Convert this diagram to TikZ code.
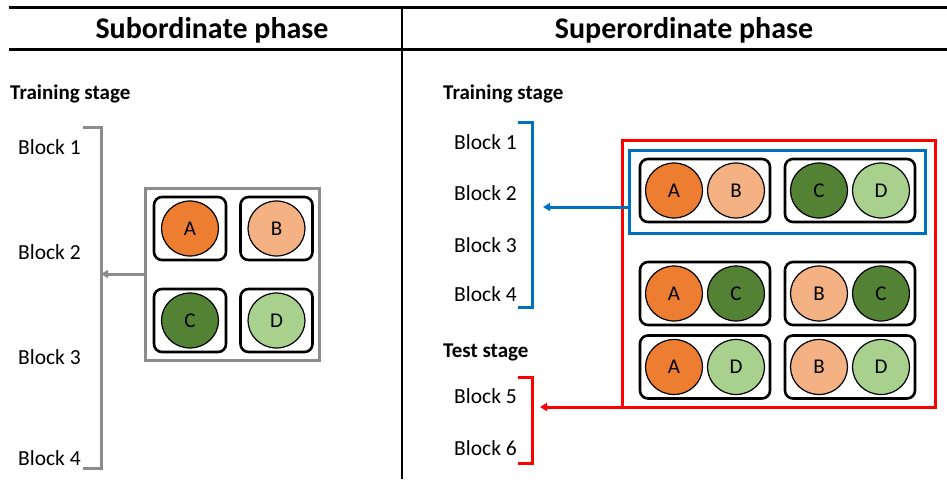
\documentclass[tikz,border=0pt]{standalone}
\usepackage{fontspec}
\setmainfont{Carlito}
\usetikzlibrary{shapes.geometric, arrows.meta}

\definecolor{tokA}{HTML}{ED7D31}
\definecolor{tokB}{HTML}{F4B183}
\definecolor{tokC}{HTML}{548235}
\definecolor{tokD}{HTML}{A9D18E}
\definecolor{frameblue}{HTML}{0070C0}
\definecolor{framered}{HTML}{FF0000}
\definecolor{framegray}{HTML}{8C8C8C}

\tikzset{
    tok/.style={ellipse, draw, line width=1.2pt, minimum width=57pt, minimum height=55pt,
        inner sep=0pt, font=\fontsize{21}{21}\selectfont},
    single/.style={draw, line width=2.6pt, rounded corners=8pt, minimum width=72pt, minimum height=63pt},
    pair/.style={draw, line width=2.6pt, rounded corners=8pt, minimum width=130pt, minimum height=63pt},
    blk/.style={anchor=west, inner sep=0pt, font=\fontsize{21.5}{21.5}\selectfont},
    stage/.style={anchor=west, inner sep=0pt, font=\fontsize{21}{21}\selectfont\bfseries},
    phase/.style={inner sep=0pt, font=\fontsize{30}{30}\selectfont\bfseries},
    tip/.style={-{Triangle[length=7pt, width=8pt]}},
}

\begin{document}
\begin{tikzpicture}[x=1pt, y=-1pt]
    \useasboundingbox (0,0) rectangle (947,479);

    % header
    \draw[line width=2.2pt] (9,7.5) -- (947,7.5);
    \draw[line width=3pt] (9,49.5) -- (947,49.5);
    \draw[line width=2.5pt] (402,9) -- (402,479);
    \node[phase] (subph) at (212,30) {Subordinate phase};
    \node[phase] (supph) at (684,30) {Superordinate phase};

    % subordinate phase
    \node[stage] (trainL) at (10,94) {Training stage};
    \node[blk] (b1L) at (18,147) {Block 1};
    \node[blk] (b2L) at (18,252) {Block 2};
    \node[blk] (b3L) at (18,357) {Block 3};
    \node[blk] (b4L) at (18,458) {Block 4};
    \draw[framegray, line width=3pt] (83,127) -- (101,127) -- (101,468) -- (83,468);
    \coordinate (graytip) at (101,274);

    \node[draw=framegray, line width=3pt, outer sep=0pt, minimum width=174pt, minimum height=172pt] (grayframe) at (232,274) {};
    \node[single] (sA) at (190,228.5) {};
    \node[single] (sB) at (276.5,228.5) {};
    \node[single] (sC) at (190,320.5) {};
    \node[single] (sD) at (276.5,320.5) {};
    \node[tok, fill=tokA] (cA) at (sA) {A};
    \node[tok, fill=tokB] (cB) at (sB) {B};
    \node[tok, fill=tokC] (cC) at (sC) {C};
    \node[tok, fill=tokD] (cD) at (sD) {D};
    \draw[framegray, line width=3pt, tip] (grayframe.west) -- (graytip);

    % superordinate phase
    \node[stage] (trainR) at (443,94) {Training stage};
    \node[blk] (b1R) at (454,142) {Block 1};
    \node[blk] (b2R) at (454,193) {Block 2};
    \node[blk] (b3R) at (454,245) {Block 3};
    \node[blk] (b4R) at (454,294) {Block 4};
    \node[stage] (testR) at (443,352) {Test stage};
    \node[blk] (b5R) at (454,396) {Block 5};
    \node[blk] (b6R) at (454,448) {Block 6};
    \draw[frameblue, line width=3pt] (518,122) -- (532,122) -- (532,307) -- (518,307);
    \draw[framered, line width=3pt] (518,377) -- (532,377) -- (532,463) -- (518,463);
    \coordinate (bluetip) at (543,207);
    \coordinate (redtip) at (540,407);

    \node[draw=framered, line width=3pt, outer sep=0pt, minimum width=313pt, minimum height=267pt] (redbox) at (778.5,273.5) {};
    \node[draw=frameblue, line width=3pt, outer sep=0pt, minimum width=296pt, minimum height=83pt] (bluebox) at (777,191.5) {};

    \node[pair] (pAB) at (705,190.5) {};
    \node[pair] (pCD) at (850,190.5) {};
    \node[pair] (pAC) at (705,293.5) {};
    \node[pair] (pBC) at (850,293.5) {};
    \node[pair] (pAD) at (705,367) {};
    \node[pair] (pBD) at (850,367) {};
    \foreach \p/\l/\r in {AB/A/B, CD/C/D, AC/A/C, BC/B/C, AD/A/D, BD/B/D} {
        \node[tok, fill=tok\l] (\p l) at ([xshift=-31pt]p\p.center) {\l};
        \node[tok, fill=tok\r] (\p r) at ([xshift=31pt]p\p.center) {\r};
    }

    \draw[frameblue, line width=3pt, tip] (bluebox.west |- bluetip) -- (bluetip);
    \draw[framered, line width=3pt, tip] (redbox.south west) -- (redbox.south west -| redtip);
\end{tikzpicture}
\end{document}
